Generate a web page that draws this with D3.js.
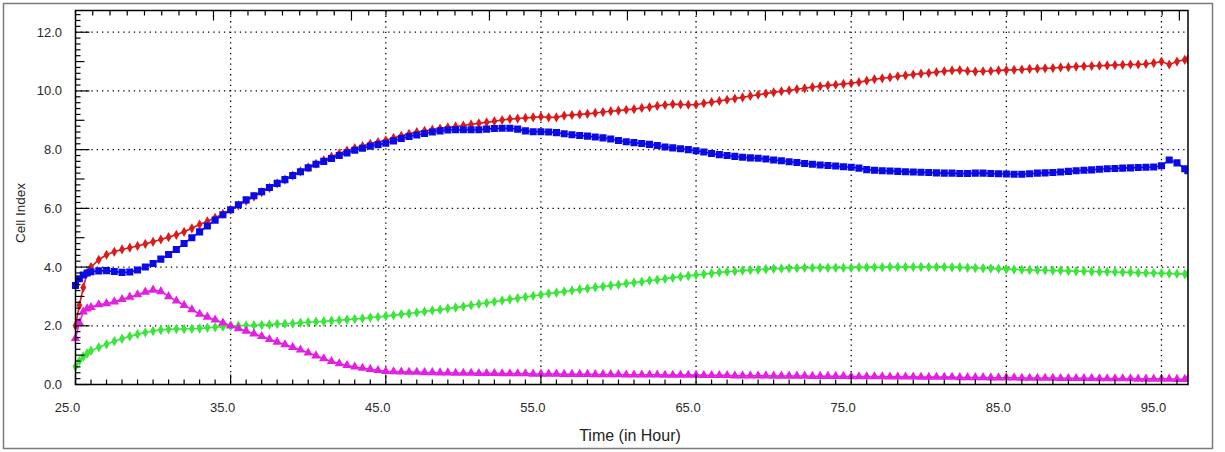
<!DOCTYPE html>
<html>
<head>
<meta charset="utf-8">
<script src="https://cdn.jsdelivr.net/npm/d3@7"></script>
<style>
  html, body { margin: 0; padding: 0; background: #fff; }
  svg { display: block; font-family: "Liberation Sans", Arial, sans-serif; }
</style>
</head>
<body>
<svg id="chart" width="1225" height="452"></svg>
<script>
// ---- data (Time in hours, Cell Index) ----
const times = [
  25.0,25.25,25.5,25.75,26.0,26.5,
  27,27.5,28,28.5,29,29.5,30,30.5,31,31.5,32,32.5,33,33.5,34,34.5,35,35.5,36,36.5,
  37,37.5,38,38.5,39,39.5,40,40.5,41,41.5,42,42.5,43,43.5,44,44.5,45,45.5,46,46.5,
  47,47.5,48,48.5,49,49.5,50,50.5,51,51.5,52,52.5,53,53.5,54,54.5,55,55.5,56,56.5,
  57,57.5,58,58.5,59,59.5,60,60.5,61,61.5,62,62.5,63,63.5,64,64.5,65,65.5,66,66.5,
  67,67.5,68,68.5,69,69.5,70,70.5,71,71.5,72,72.5,73,73.5,74,74.5,75,75.5,76,76.5,
  77,77.5,78,78.5,79,79.5,80,80.5,81,81.5,82,82.5,83,83.5,84,84.5,85,85.5,86,86.5,
  87,87.5,88,88.5,89,89.5,90,90.5,91,91.5,92,92.5,93,93.5,94,94.5,95,95.5,96,96.5,
  96.7
];
const redValues = [
  2.0,2.7,3.3,3.8,4.0,4.25,
  4.42,4.52,4.6,4.66,4.72,4.79,4.86,4.94,5.02,5.1,5.2,5.32,5.45,5.56,5.68,5.81,5.95,6.1,6.25,6.4,
  6.55,6.7,6.85,6.98,7.12,7.26,7.4,7.52,7.64,7.76,7.87,7.97,8.05,8.12,8.2,8.26,8.32,8.4,8.47,8.54,
  8.6,8.64,8.68,8.72,8.76,8.79,8.82,8.86,8.9,8.93,8.97,9.01,9.04,9.06,9.08,9.1,9.12,9.1,9.1,9.16,
  9.18,9.2,9.22,9.25,9.28,9.31,9.33,9.36,9.38,9.42,9.45,9.49,9.52,9.55,9.54,9.53,9.53,9.58,9.62,9.66,
  9.7,9.74,9.78,9.83,9.87,9.91,9.95,9.99,10.02,10.06,10.09,10.13,10.16,10.19,10.21,10.24,10.26,10.3,10.35,10.4,
  10.43,10.46,10.5,10.53,10.56,10.59,10.61,10.64,10.67,10.7,10.71,10.68,10.66,10.67,10.68,10.7,10.71,10.72,10.73,10.75,
  10.76,10.77,10.78,10.8,10.81,10.83,10.84,10.85,10.86,10.87,10.88,10.89,10.9,10.9,10.92,10.95,11.0,10.9,11.0,11.06,
  11.08
];
const blueValues = [
  3.37,3.6,3.73,3.8,3.84,3.87,
  3.88,3.85,3.82,3.83,3.9,4.0,4.12,4.27,4.43,4.6,4.8,5.0,5.2,5.4,5.6,5.78,5.95,6.12,6.29,6.43,
  6.57,6.71,6.85,6.98,7.12,7.25,7.38,7.5,7.6,7.7,7.8,7.89,7.98,8.05,8.12,8.17,8.22,8.3,8.38,8.45,
  8.5,8.55,8.6,8.64,8.67,8.68,8.68,8.68,8.68,8.7,8.72,8.73,8.73,8.7,8.64,8.61,8.61,8.6,8.58,8.54,
  8.51,8.48,8.46,8.43,8.4,8.36,8.31,8.27,8.24,8.21,8.18,8.14,8.09,8.06,8.03,8.0,7.96,7.92,7.87,7.83,
  7.8,7.77,7.74,7.72,7.71,7.68,7.65,7.62,7.59,7.56,7.53,7.5,7.48,7.46,7.44,7.42,7.4,7.37,7.32,7.3,
  7.28,7.27,7.26,7.25,7.24,7.23,7.22,7.21,7.2,7.2,7.19,7.19,7.2,7.2,7.19,7.18,7.17,7.16,7.16,7.18,
  7.2,7.21,7.22,7.24,7.26,7.28,7.3,7.31,7.33,7.35,7.36,7.37,7.38,7.39,7.4,7.41,7.45,7.65,7.55,7.35,
  7.28
];
const greenValues = [
  0.61,0.8,0.95,1.06,1.15,1.27,
  1.37,1.47,1.56,1.64,1.71,1.77,1.82,1.86,1.88,1.89,1.89,1.9,1.91,1.93,1.95,1.97,1.99,2.0,2.01,2.02,
  2.03,2.04,2.06,2.07,2.08,2.1,2.12,2.14,2.15,2.17,2.19,2.21,2.23,2.25,2.28,2.3,2.33,2.36,2.39,2.42,
  2.45,2.49,2.52,2.55,2.59,2.62,2.66,2.7,2.74,2.78,2.82,2.86,2.9,2.94,2.98,3.02,3.06,3.1,3.13,3.17,
  3.2,3.24,3.27,3.31,3.34,3.37,3.4,3.44,3.47,3.5,3.54,3.57,3.6,3.64,3.67,3.7,3.73,3.76,3.79,3.82,
  3.84,3.86,3.88,3.9,3.91,3.93,3.94,3.95,3.96,3.97,3.98,3.98,3.98,3.98,3.98,3.98,3.98,3.99,3.99,3.99,
  3.99,4.0,4.0,4.0,4.0,4.0,4.0,4.0,4.0,3.99,3.99,3.98,3.97,3.96,3.95,3.94,3.93,3.92,3.91,3.9,
  3.9,3.89,3.88,3.88,3.87,3.86,3.86,3.85,3.84,3.84,3.83,3.82,3.82,3.81,3.8,3.8,3.79,3.78,3.77,3.76,
  3.76
];
const magentaValues = [
  1.57,2.1,2.48,2.58,2.63,2.72,
  2.76,2.82,2.9,2.98,3.06,3.15,3.22,3.17,3.0,2.85,2.7,2.55,2.4,2.3,2.2,2.1,2.0,1.91,1.82,1.73,
  1.64,1.54,1.45,1.36,1.27,1.18,1.08,0.98,0.88,0.79,0.71,0.65,0.6,0.56,0.52,0.48,0.45,0.44,0.43,0.42,
  0.42,0.41,0.41,0.4,0.4,0.39,0.39,0.39,0.38,0.38,0.38,0.37,0.37,0.37,0.37,0.36,0.36,0.36,0.36,0.35,
  0.35,0.35,0.35,0.34,0.34,0.34,0.34,0.33,0.33,0.33,0.33,0.33,0.32,0.32,0.32,0.32,0.32,0.31,0.31,0.31,
  0.31,0.3,0.3,0.3,0.3,0.3,0.29,0.29,0.29,0.29,0.29,0.28,0.28,0.28,0.28,0.28,0.27,0.27,0.27,0.27,
  0.27,0.26,0.26,0.26,0.26,0.25,0.25,0.25,0.25,0.25,0.24,0.24,0.24,0.24,0.23,0.23,0.23,0.23,0.22,0.22,
  0.22,0.22,0.22,0.21,0.21,0.21,0.21,0.21,0.2,0.2,0.2,0.2,0.2,0.19,0.19,0.19,0.19,0.19,0.18,0.18,
  0.18
];
const xTickLabels = ["25.0","35.0","45.0","55.0","65.0","75.0","85.0","95.0"];
const yTickLabels = ["0.0","2.0","4.0","6.0","8.0","10.0","12.0"];
const xTitle = "Time (in Hour)";
const yTitle = "Cell Index";

// ---- layout ----
const svg = d3.select("#chart");
const L = 75.5, R = 1188, T = 10.5, B = 384.5;
const x = d3.scaleLinear().domain([25, 96.71]).range([L, R]);
const y = d3.scaleLinear().domain([0, 12.74]).range([B, T]);
const xTop = d3.scaleLinear().domain([0, 64.5]).range([L, R]);

// outer frame
svg.append("rect").attr("x", 3.5).attr("y", 3.5).attr("width", 1209).attr("height", 445)
  .attr("fill", "#fff").attr("stroke", "#7a7a7a").attr("stroke-width", 1.5);

// grid
const g = svg.append("g");
yTickLabels.map(Number).filter(v => v > 0).forEach(v => {
  g.append("line").attr("x1", L).attr("x2", R).attr("y1", y(v)).attr("y2", y(v))
    .attr("stroke", "#000").attr("stroke-width", 1.3).attr("stroke-dasharray", "1.3,4");
});
xTickLabels.map(Number).filter(v => v > 25).forEach(v => {
  g.append("line").attr("x1", x(v)).attr("x2", x(v)).attr("y1", T).attr("y2", B)
    .attr("stroke", "#000").attr("stroke-width", 1.3).attr("stroke-dasharray", "1.3,4");
});

// series
const series = [
  { name: "red", values: redValues, color: "#dc1a1a", symbol: d3.symbolDiamond, size: 30 },
  { name: "blue", values: blueValues, color: "#0a0ae6", symbol: d3.symbolSquare, size: 50 },
  { name: "green", values: greenValues, color: "#3be63b", symbol: d3.symbolDiamond, size: 32 },
  { name: "magenta", values: magentaValues, color: "#e21fe2", symbol: d3.symbolTriangle, size: 38 }
];
const clip = svg.append("clipPath").attr("id", "plotclip").append("rect")
  .attr("x", L - 5).attr("y", T).attr("width", R - L + 5).attr("height", B - T);
const line = d3.line().x(d => x(d[0])).y(d => y(d[1]));
series.forEach(s => {
  const pts = times.map((t, i) => [t, s.values[i]]);
  const sg = svg.append("g").attr("clip-path", "url(#plotclip)");
  sg.append("path").datum(pts).attr("d", line).attr("fill", "none")
    .attr("stroke", s.color).attr("stroke-width", 1.6);
  sg.selectAll("path.m").data(pts).enter().append("path").attr("class", "m")
    .attr("transform", d => `translate(${x(d[0])},${y(d[1])})`)
    .attr("d", d3.symbol().type(s.symbol).size(s.size))
    .attr("fill", s.color);
});

// plot frame
svg.append("rect").attr("x", L).attr("y", T).attr("width", R - L).attr("height", B - T)
  .attr("fill", "none").attr("stroke", "#000").attr("stroke-width", 1.5);

// bottom ticks (inward)
const ax = svg.append("g").attr("stroke", "#000").attr("stroke-width", 1.2);
d3.range(25, 97, 1).forEach(t => {
  const major = (t - 25) % 10 === 0;
  ax.append("line").attr("x1", x(t)).attr("x2", x(t)).attr("y1", B).attr("y2", B - (major ? 10 : 5));
});
// top ticks (inward)
d3.range(0, 65, 1).forEach(k => {
  const major = k > 0 && k % 8 === 0;
  ax.append("line").attr("x1", xTop(k)).attr("x2", xTop(k)).attr("y1", T).attr("y2", T + (major ? 10 : 5));
});
// left ticks (inward)
d3.range(0, 12.75, 0.2).forEach(v => {
  const r = Math.round(v * 10) / 10;
  const major = Math.abs(r % 2) < 1e-6;
  const mid = !major && Math.abs(r % 1) < 1e-6;
  ax.append("line").attr("x1", L).attr("x2", L + (major ? 14 : mid ? 9 : 5))
    .attr("y1", y(r)).attr("y2", y(r));
});

// tick labels
yTickLabels.forEach(lbl => {
  svg.append("text").attr("x", 62).attr("y", y(+lbl)).attr("dy", "0.35em")
    .attr("text-anchor", "end").attr("font-size", 13).attr("fill", "#2a2a2a").text(lbl);
});
xTickLabels.forEach(lbl => {
  svg.append("text").attr("x", x(+lbl) - 8).attr("y", 412)
    .attr("text-anchor", "middle").attr("font-size", 13).attr("fill", "#2a2a2a").text(lbl);
});

// titles
svg.append("text").attr("x", 630).attr("y", 441).attr("text-anchor", "middle")
  .attr("font-size", 16).attr("fill", "#222").text(xTitle);
svg.append("text").attr("transform", "translate(25,213) rotate(-90)").attr("text-anchor", "middle")
  .attr("font-size", 13.5).attr("fill", "#222").text(yTitle);
</script>
</body>
</html>
